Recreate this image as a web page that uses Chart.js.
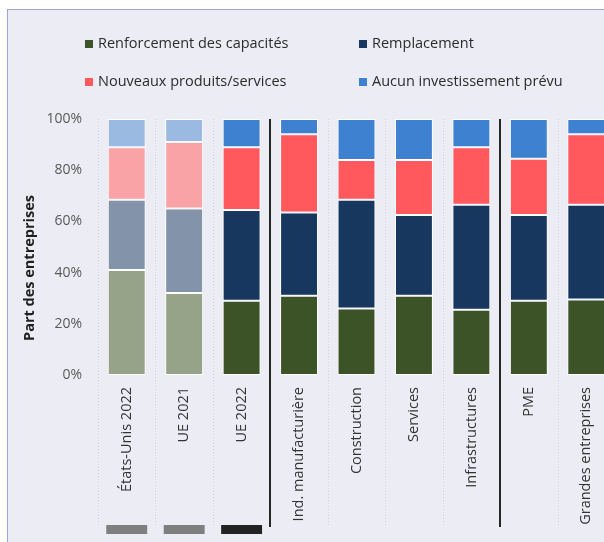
<!DOCTYPE html>
<html lang="fr">
<head>
<meta charset="utf-8">
<title>Type d'investissement</title>
<script src="https://cdn.jsdelivr.net/npm/chart.js"></script>
<style>
  html, body { margin: 0; padding: 0; background: #fff; overflow: hidden; }
  body { width: 604px; height: 542px; position: relative; }
  .frame {
    position: absolute; left: 7px; top: 9px; width: 700px; height: 600px;
    background: #ececf4; border: 1px solid #a3a3d2;
  }
  #chart { position: absolute; left: 0; top: 0; }
</style>
</head>
<body>
<div class="frame"></div>
<canvas id="chart" width="625" height="542"></canvas>
<script>
const categories = ['États-Unis 2022', 'UE 2021', 'UE 2022', 'Ind. manufacturière', 'Construction',
  'Services', 'Infrastructures', 'PME', 'Grandes entreprises'];

// parts en % (chaque colonne somme à 100)
const renforcement = [41, 32, 29, 31, 26, 31, 25.5, 29, 29.5];
const remplacement = [27.5, 33, 35.5, 32.5, 42.5, 31.5, 41, 33.5, 37];
const nouveaux = [20.5, 26, 24.5, 30.5, 15.5, 21.5, 22.5, 22, 27.5];
const aucun = [11, 9, 11, 6, 16, 16, 11, 15.5, 6];

const yTicks = [0, 20, 40, 60, 80, 100];

// les deux premières colonnes (référence) sont en teinte atténuée
const faded = [true, true, false, false, false, false, false, false, false];
// groupes séparés par un trait plein après ces indices
const groupBreaks = [3, 7];
// pastilles sous les trois premières étiquettes
const tagColors = ['#7f7f7f', '#7f7f7f', '#222222'];

function shade(dark, light) {
  return faded.map(f => f ? light : dark);
}

const font = "'Open Sans', 'DejaVu Sans', sans-serif";

const decorations = {
  id: 'decorations',
  beforeDatasetsDraw(chart) {
    const { ctx, chartArea } = chart;
    const step = (chartArea.right - chartArea.left) / categories.length;
    ctx.save();
    ctx.strokeStyle = '#d2d2dc';
    ctx.lineWidth = 1;
    ctx.setLineDash([1, 2]);
    for (let k = 0; k <= categories.length; k++) {
      if (groupBreaks.includes(k)) continue;
      const px = Math.round(chartArea.left + k * step) + 0.5;
      ctx.beginPath();
      ctx.moveTo(px, chartArea.top);
      ctx.lineTo(px, 527);
      ctx.stroke();
    }
    ctx.restore();
  },
  afterDraw(chart) {
    const { ctx, chartArea } = chart;
    const step = (chartArea.right - chartArea.left) / categories.length;
    ctx.save();
    // séparateurs de groupes
    ctx.strokeStyle = '#262626';
    ctx.lineWidth = 2;
    groupBreaks.forEach(k => {
      const px = Math.round(chartArea.left + k * step);
      ctx.beginPath();
      ctx.moveTo(px, chartArea.top);
      ctx.lineTo(px, 527);
      ctx.stroke();
    });

    // pastilles
    const meta = chart.getDatasetMeta(0);
    tagColors.forEach((c, i) => {
      const bar = meta.data[i];
      const half = bar.width / 2 + 1.5;
      ctx.fillStyle = c;
      ctx.fillRect(bar.x - half, 525, half * 2, 9);
    });

    // titre de l'axe vertical
    ctx.translate(30, 268);
    ctx.rotate(-Math.PI / 2);
    ctx.fillStyle = '#1f1f1f';
    ctx.font = 'bold 14.5px ' + font;
    ctx.textAlign = 'center';
    ctx.textBaseline = 'middle';
    ctx.fillText('Part des entreprises', 0, 0);
    ctx.restore();

    // légende sur deux colonnes
    const cols = [85, 359];
    const rows = [44, 82];
    ctx.save();
    ctx.font = '14.5px ' + font;
    ctx.textBaseline = 'middle';
    chart.data.datasets.forEach((ds, n) => {
      const lx = cols[n % 2];
      const ly = rows[Math.floor(n / 2)];
      ctx.fillStyle = ds.legendColor;
      ctx.fillRect(lx, ly - 4, 8, 8);
      ctx.fillStyle = '#2b2b2b';
      ctx.fillText(ds.label, lx + 13, ly);
    });
    ctx.restore();
  }
};

new Chart(document.getElementById('chart'), {
  type: 'bar',
  data: {
    labels: categories,
    datasets: [
      { label: 'Renforcement des capacités', data: renforcement,
        backgroundColor: shade('#3b5327', '#97a389'), legendColor: '#3b5327' },
      { label: 'Remplacement', data: remplacement,
        backgroundColor: shade('#17375e', '#8393a9'), legendColor: '#17375e' },
      { label: 'Nouveaux produits/services', data: nouveaux,
        backgroundColor: shade('#ff585d', '#f9a3a7'), legendColor: '#ff585d' },
      { label: 'Aucun investissement prévu', data: aucun,
        backgroundColor: shade('#3f81d1', '#9bbae1'), legendColor: '#3f81d1' }
    ].map(ds => Object.assign(ds, {
      borderColor: '#ffffff',
      borderWidth: 1,
      borderSkipped: false,
      barPercentage: 0.66,
      categoryPercentage: 1
    }))
  },
  options: {
    responsive: false,
    animation: false,
    layout: { padding: { top: 119, left: 0, right: 10, bottom: 0 } },
    plugins: {
      legend: { display: false },
      tooltip: { enabled: false }
    },
    scales: {
      x: {
        stacked: true,
        grid: { display: false, drawTicks: false },
        border: { display: false },
        ticks: {
          autoSkip: false,
          minRotation: 90,
          maxRotation: 90,
          padding: 12,
          color: '#333333',
          font: { family: font, size: 14.5 }
        },
        afterFit(scale) { scale.height = 167; }
      },
      y: {
        stacked: true,
        min: 0,
        max: 100,
        grid: { display: false, drawTicks: false },
        border: { display: false },
        afterBuildTicks(scale) { scale.ticks = yTicks.map(v => ({ value: v })); },
        ticks: {
          padding: 16,
          color: '#595959',
          font: { family: font, size: 14 },
          callback: v => v + '%'
        },
        afterFit(scale) { scale.width = 98; }
      }
    }
  },
  plugins: [decorations]
});
</script>
</body>
</html>
